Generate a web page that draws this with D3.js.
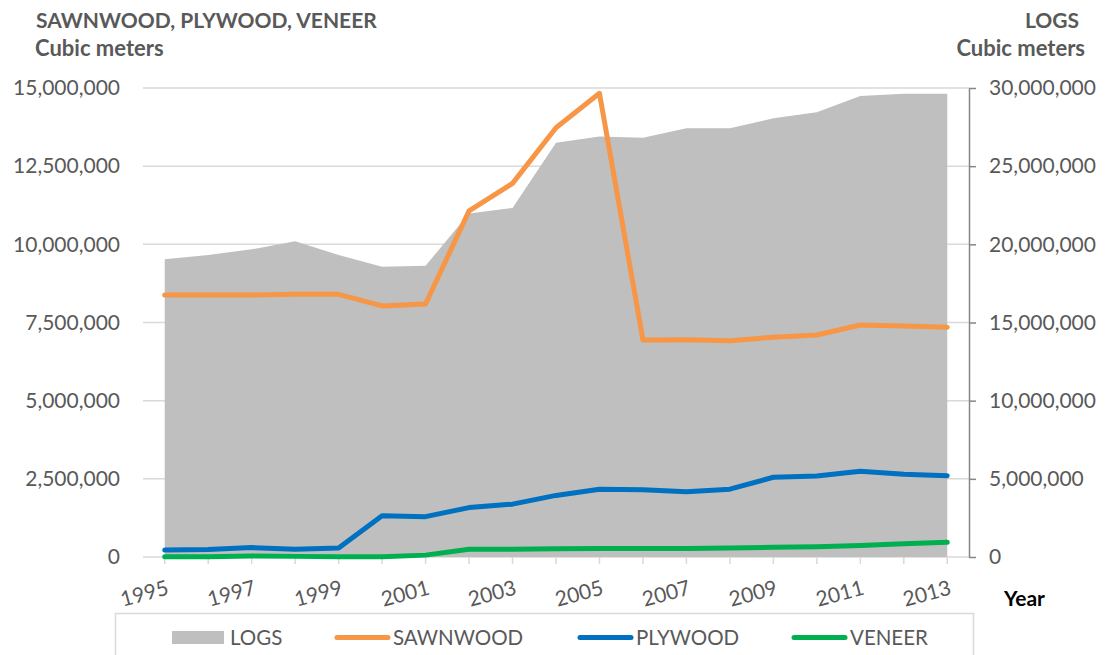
<!DOCTYPE html>
<html>
<head>
<meta charset="utf-8">
<script src="https://cdn.jsdelivr.net/npm/d3@7"></script>
<style>
  html, body { margin: 0; padding: 0; background: #fff; }
  svg { display: block; font-family: "Lato", "Liberation Sans", sans-serif; }
</style>
</head>
<body>
<svg id="chart" width="1108" height="655"></svg>
<script>
// ---- DATA ----
const years = [1995, 1996, 1997, 1998, 1999, 2000, 2001, 2002, 2003, 2004, 2005, 2006, 2007, 2008, 2009, 2010, 2011, 2012, 2013];
const xTickLabels = [1995, 1997, 1999, 2001, 2003, 2005, 2007, 2009, 2011, 2013];
const logs = [19040000, 19320000, 19680000, 20190000, 19320000, 18570000, 18630000, 21980000, 22320000, 26500000, 26890000, 26820000, 27420000, 27420000, 28060000, 28450000, 29490000, 29640000, 29640000];
const sawnwood = [8380000, 8380000, 8380000, 8400000, 8400000, 8030000, 8090000, 11070000, 11950000, 13730000, 14830000, 6940000, 6950000, 6920000, 7030000, 7100000, 7420000, 7390000, 7350000];
const plywood = [220000, 240000, 300000, 250000, 290000, 1320000, 1290000, 1580000, 1690000, 1970000, 2170000, 2150000, 2090000, 2170000, 2550000, 2590000, 2740000, 2650000, 2600000];
const veneer = [10000, 10000, 30000, 20000, 10000, 10000, 60000, 250000, 250000, 260000, 270000, 270000, 270000, 290000, 310000, 330000, 370000, 420000, 470000];
const leftTicks = [0, 2500000, 5000000, 7500000, 10000000, 12500000, 15000000];
const rightTicks = [0, 5000000, 10000000, 15000000, 20000000, 25000000, 30000000];
const seriesNames = ["LOGS", "SAWNWOOD", "PLYWOOD", "VENEER"];
const seriesColors = ["#BFBFBF", "#F79646", "#0070C0", "#00B050"];

// ---- LAYOUT ----
const svg = d3.select("#chart");
const plotL = 143, plotR = 969, plotT = 88, plotB = 557;
const x = d3.scaleLinear().domain([1994.5, 2013.5]).range([plotL, plotR]);
const yL = d3.scaleLinear().domain([0, 15000000]).range([plotB, plotT]);
const yR = d3.scaleLinear().domain([0, 30000000]).range([plotB, plotT]);
const textGray = "#595959";

// gridlines
svg.append("g").selectAll("line").data(leftTicks).join("line")
  .attr("x1", plotL).attr("x2", plotR)
  .attr("y1", d => yL(d)).attr("y2", d => yL(d))
  .attr("stroke", "#D9D9D9").attr("stroke-width", 1.5);

// x tick marks
svg.append("g").selectAll("line").data(years).join("line")
  .attr("x1", d => x(d)).attr("x2", d => x(d))
  .attr("y1", plotB).attr("y2", plotB + 7)
  .attr("stroke", "#D9D9D9").attr("stroke-width", 1.5);

// area (LOGS, right axis)
const area = d3.area()
  .x((d, i) => x(years[i]))
  .y0(yR(0))
  .y1(d => yR(d));
svg.append("path").datum(logs).attr("d", area).attr("fill", seriesColors[0]);

// lines (left axis)
const line = d3.line().x((d, i) => x(years[i])).y(d => yL(d));
[sawnwood, plywood, veneer].forEach((s, k) => {
  svg.append("path").datum(s).attr("d", line)
    .attr("fill", "none").attr("stroke", seriesColors[k + 1])
    .attr("stroke-width", 5).attr("stroke-linecap", "round").attr("stroke-linejoin", "round");
});

// left axis labels
const fmt = d3.format(",");
const gL = svg.append("g").attr("transform", `translate(${plotL},0)`)
  .call(d3.axisLeft(yL).tickValues(leftTicks).tickFormat(fmt).tickSize(0).tickPadding(23));
gL.select(".domain").remove();
gL.selectAll("text").attr("fill", textGray).style("font-size", "21px").style("font-family", "Lato, 'Liberation Sans', sans-serif");

// right axis
const gR = svg.append("g").attr("transform", `translate(${plotR},0)`)
  .call(d3.axisRight(yR).tickValues(rightTicks).tickFormat(fmt).tickSize(7).tickSizeOuter(0).tickPadding(13));
gR.select(".domain").attr("stroke", "#868686").attr("stroke-width", 1.5);
gR.selectAll(".tick line").attr("stroke", "#868686").attr("stroke-width", 1.5);
gR.selectAll("text").attr("fill", textGray).style("font-size", "21px").style("font-family", "Lato, 'Liberation Sans', sans-serif");

// x labels rotated
svg.append("g").selectAll("text").data(xTickLabels).join("text")
  .attr("transform", d => `translate(${x(d) + 1},${plotB + 22}) rotate(-15)`)
  .attr("text-anchor", "end").attr("dy", "0.75em")
  .attr("fill", textGray).style("font-size", "21px")
  .text(d => d);

// titles
svg.append("text").attr("x", 36).attr("y", 28).attr("fill", textGray)
  .style("font-size", "21px").style("font-weight", "bold").text("SAWNWOOD, PLYWOOD, VENEER");
svg.append("text").attr("x", 35).attr("y", 56).attr("fill", textGray)
  .style("font-size", "22px").style("font-weight", "bold").text("Cubic meters");
svg.append("text").attr("x", 1079).attr("y", 28).attr("fill", textGray).attr("text-anchor", "end")
  .style("font-size", "21px").style("font-weight", "bold").text("LOGS");
svg.append("text").attr("x", 1085).attr("y", 56).attr("fill", textGray).attr("text-anchor", "end")
  .style("font-size", "22px").style("font-weight", "bold").text("Cubic meters");
svg.append("text").attr("x", 1004).attr("y", 606).attr("fill", "#000")
  .style("font-size", "21px").style("font-weight", "bold").text("Year");

// legend
svg.append("rect").attr("x", 115.5).attr("y", 613.5).attr("width", 858).attr("height", 60)
  .attr("fill", "#fff").attr("stroke", "#D9D9D9").attr("stroke-width", 1.5);
const legendX = [172, 335, 578, 792];
const legend = svg.append("g");
seriesNames.forEach((name, i) => {
  const lx = legendX[i];
  if (i === 0) {
    legend.append("rect").attr("x", lx).attr("y", 631).attr("width", 52).attr("height", 13).attr("fill", seriesColors[0]);
  } else {
    legend.append("line").attr("x1", lx + 2).attr("x2", lx + 53).attr("y1", 637.5).attr("y2", 637.5)
      .attr("stroke", seriesColors[i]).attr("stroke-width", 5).attr("stroke-linecap", "round");
  }
  legend.append("text").attr("x", lx + 58).attr("y", 645).attr("fill", textGray)
    .style("font-size", "20.5px").text(name);
});
</script>
</body>
</html>
